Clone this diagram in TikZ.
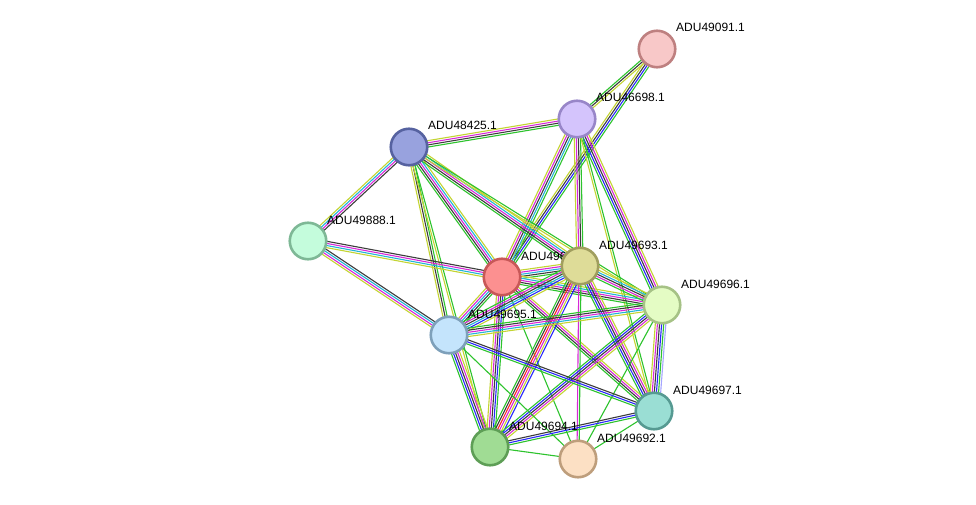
\documentclass[tikz,border=0pt]{standalone}
\usepackage{fontspec}
\setmainfont{Liberation Sans}
\usetikzlibrary{calc,backgrounds}

\definecolor{cnb}{RGB}{45,195,45}
\definecolor{cfu}{RGB}{255,35,35}
\definecolor{cco}{RGB}{40,40,250}
\definecolor{cex}{RGB}{60,60,60}
\definecolor{cxp}{RGB}{215,40,215}
\definecolor{cdb}{RGB}{35,180,215}
\definecolor{ctm}{RGB}{195,212,50}
\definecolor{chm}{RGB}{165,165,255}

\tikzset{
  prot/.style={circle,draw,line width=2.6pt,minimum size=36.5pt,inner sep=0pt},
  plabel/.style={anchor=base west,inner sep=0pt,font=\fontsize{12pt}{12pt}\selectfont}
}

\begin{document}
\begin{tikzpicture}[x=1pt,y=-1pt]
  \useasboundingbox (0,0) rectangle (976,505);

  % proteins and their labels
  \foreach \nm/\px/\py/\fc/\bc/\txt in {
      u49091/657/49/{rgb,255:red,248;green,200;blue,200}/{rgb,255:red,190;green,128;blue,128}/ADU49091.1,
      u46698/577/119/{rgb,255:red,212;green,196;blue,252}/{rgb,255:red,152;green,134;blue,200}/ADU46698.1,
      u48425/409/147/{rgb,255:red,152;green,162;blue,222}/{rgb,255:red,86;green,98;blue,160}/ADU48425.1,
      u49888/308/241/{rgb,255:red,196;green,252;blue,220}/{rgb,255:red,126;green,184;blue,150}/ADU49888.1,
      u496/502/277/{rgb,255:red,252;green,144;blue,144}/{rgb,255:red,200;green,88;blue,88}/ADU496,
      u49693/580/266/{rgb,255:red,222;green,220;blue,152}/{rgb,255:red,160;green,158;blue,94}/ADU49693.1,
      u49696/662/305/{rgb,255:red,228;green,252;blue,196}/{rgb,255:red,166;green,194;blue,134}/ADU49696.1,
      u49695/449/335/{rgb,255:red,196;green,228;blue,252}/{rgb,255:red,126;green,160;blue,186}/ADU49695.1,
      u49697/654/411/{rgb,255:red,154;green,222;blue,212}/{rgb,255:red,86;green,154;blue,146}/ADU49697.1,
      u49694/490/447/{rgb,255:red,160;green,220;blue,148}/{rgb,255:red,94;green,158;blue,86}/ADU49694.1,
      u49692/578/459/{rgb,255:red,252;green,224;blue,196}/{rgb,255:red,190;green,158;blue,124}/ADU49692.1}{
    \node[plabel] at (\px+19,\py-17) {\txt};
    \node[prot,fill=\fc,draw=\bc] (\nm) at (\px,\py) {};
  }

  % evidence lines, one thin line per channel
  \begin{scope}[on background layer]
    \foreach \a/\b/\n/\cols in {
        u49091/u46698/3/{cnb,cex,ctm},
        u49091/u496/4/{ctm,cex,cco,cnb},
        u46698/u48425/4/{ctm,cxp,cex,cnb},
        u46698/u496/5/{ctm,cxp,cex,cdb,cnb},
        u46698/u49693/4/{ctm,cxp,cex,cnb},
        u46698/u49696/5/{cnb,cco,cex,cxp,ctm},
        u46698/u49697/2/{ctm,cnb},
        u48425/u49888/4/{ctm,cdb,cxp,cex},
        u48425/u496/5/{cnb,cex,cxp,cdb,ctm},
        u48425/u49693/5/{cnb,cex,cxp,cdb,ctm},
        u48425/u49696/2/{ctm,cnb},
        u48425/u49695/3/{ctm,cex,cnb},
        u48425/u49694/2/{ctm,cnb},
        u49888/u496/4/{ctm,cdb,cxp,cex},
        u49888/u49695/4/{ctm,cxp,cdb,cex},
        u496/u49693/5/{cnb,cex,cdb,cxp,ctm},
        u496/u49696/5/{cnb,cex,cxp,cdb,ctm},
        u496/u49695/5/{ctm,cxp,cdb,cex,cnb},
        u496/u49694/5/{ctm,cxp,cex,cco,cnb},
        u496/u49697/4/{cnb,cex,cxp,ctm},
        u496/u49692/1/{cnb},
        u49693/u49696/5/{cnb,cxp,cex,cdb,ctm},
        u49693/u49695/6/{cnb,cxp,cex,cdb,cco,ctm},
        u49693/u49694/6/{cnb,cex,cfu,cxp,ctm,cco},
        u49693/u49697/5/{cnb,cco,cex,cxp,ctm},
        u49693/u49692/2/{cxp,cnb},
        u49696/u49695/5/{cnb,cex,cxp,cdb,ctm},
        u49696/u49694/5/{cnb,cco,cex,cxp,ctm},
        u49696/u49697/6/{ctm,cxp,cex,cco,cnb,chm},
        u49696/u49692/1/{cnb},
        u49695/u49694/5/{cnb,cco,cex,cxp,ctm},
        u49695/u49697/3/{cnb,cco,cex},
        u49695/u49692/1/{cnb},
        u49694/u49697/3/{cnb,cco,cex},
        u49694/u49692/1/{cnb},
        u49697/u49692/1/{cnb}}{
      \foreach \c [count=\i] in \cols {
        \pgfmathsetmacro\off{(\i-(\n+1)/2)*2.1}
        \draw[\c,line width=1.1pt]
          ($(\a.center)!\off pt!90:(\b.center)$) -- ($(\b.center)!\off pt!-90:(\a.center)$);
      }
    }
  \end{scope}
\end{tikzpicture}
\end{document}
